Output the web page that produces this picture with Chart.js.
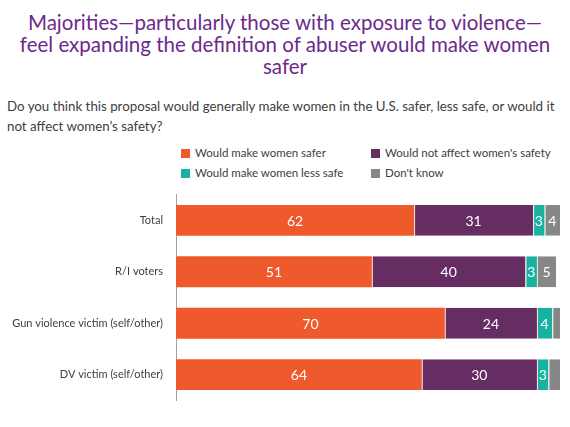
<!DOCTYPE html>
<html>
<head>
<meta charset="utf-8">
<script src="https://cdn.jsdelivr.net/npm/chart.js@4/dist/chart.umd.min.js"></script>
<style>
    body { margin: 0; background: #fff; width: 570px; height: 427px; position: relative; overflow: hidden; font-family: Lato, 'Open Sans', sans-serif; }
    #title { position: absolute; top: 11px; left: 0; width: 570px; text-align: center; color: #6b2a8c; font-size: 20.5px; line-height: 22px; }
    #subtitle { position: absolute; top: 96px; left: 7px; color: #404040; font-size: 13.3px; line-height: 20px; }
    #legend { position: absolute; top: 145px; left: 181px; width: 390px; font-size: 11.5px; color: #404040; }
    .item { position: absolute; white-space: nowrap; line-height: 16px; }
    .item span { display: inline-block; width: 9px; height: 9px; margin-right: 5px; vertical-align: -1px; }
    /* the y axis adds some padding above and below the plot area */
    #chart { position: absolute; left: 0; top: 183px; }
</style>
</head>
<body>
<div id="title">Majorities—particularly those with exposure to violence—<br>feel expanding the definition of abuser would make women<br>safer</div>
<div id="subtitle">Do you think this proposal would generally make women in the U.S. safer, less safe, or would it<br>not affect women’s safety?</div>
<div id="legend"></div>
<canvas id="chart" width="570" height="229"></canvas>
<script>
const groups = ['Total', 'R/I voters', 'Gun violence victim (self/other)', 'DV victim (self/other)'];
const safer = [62, 51, 70, 64];
const noEffect = [31, 40, 24, 30];
const lessSafe = [3, 3, 4, 3];
const dontKnow = [4, 5, 2, 3];

const seriesNames = ['Would make women safer', 'Would not affect women\'s safety', 'Would make women less safe', 'Don\'t know'];
const seriesColors = ['#ef5a2c', '#652d62', '#18b2a0', '#878787'];
const seriesData = [safer, noEffect, lessSafe, dontKnow];

// legend in 2 columns: order safer, no effect / less safe, don't know
const legendPos = [[0, 0], [190, 0], [0, 20], [190, 20]];
const legend = document.getElementById('legend');
seriesNames.forEach((name, i) => {
    const d = document.createElement('div');
    d.className = 'item';
    d.style.left = legendPos[i][0] + 'px';
    d.style.top = legendPos[i][1] + 'px';
    d.innerHTML = `<span style="background:${seriesColors[i]}"></span>${name}`;
    legend.appendChild(d);
});

// value labels inside the bars
const barLabels = {
    id: 'barLabels',
    afterDatasetsDraw(chart) {
        const ctx = chart.ctx;
        ctx.save();
        ctx.font = '14px Lato, sans-serif';
        ctx.fillStyle = '#fff';
        ctx.textAlign = 'center';
        ctx.textBaseline = 'middle';
        chart.data.datasets.forEach((ds, di) => {
            chart.getDatasetMeta(di).data.forEach((bar, i) => {
                const v = ds.data[i];
                if (di === 3 && v < 4) return;
                const x = (bar.x + bar.base) / 2;
                ctx.fillText(v, x, bar.y + 1);
            });
        });
        ctx.restore();
    }
};

const chart = new Chart(document.getElementById('chart'), {
    type: 'bar',
    data: {
        labels: groups,
        datasets: seriesData.map((d, i) => ({
            label: seriesNames[i],
            data: d,
            backgroundColor: seriesColors[i],
            borderColor: '#fbe3da',
            borderWidth: i === 0 ? 0 : { left: 1 },
            borderSkipped: false,
            barPercentage: 0.6,
            categoryPercentage: 1
        }))
    },
    options: {
        indexAxis: 'y',
        responsive: false,
        animation: false,
        layout: { padding: { top: 0, bottom: 0, right: 10, left: 0 } },
        plugins: {
            legend: { display: false },
            tooltip: { enabled: false }
        },
        scales: {
            x: { stacked: true, min: 0, max: 100, display: false },
            y: {
                stacked: true,
                grid: { display: false },
                border: { display: true, color: '#a0a0a0' },
                ticks: { color: '#404040', font: { size: 11, family: 'Lato' }, padding: 5 },
                afterFit: s => { s.width = 176; }
            }
        }
    },
    plugins: [barLabels]
});
</script>
</body>
</html>
